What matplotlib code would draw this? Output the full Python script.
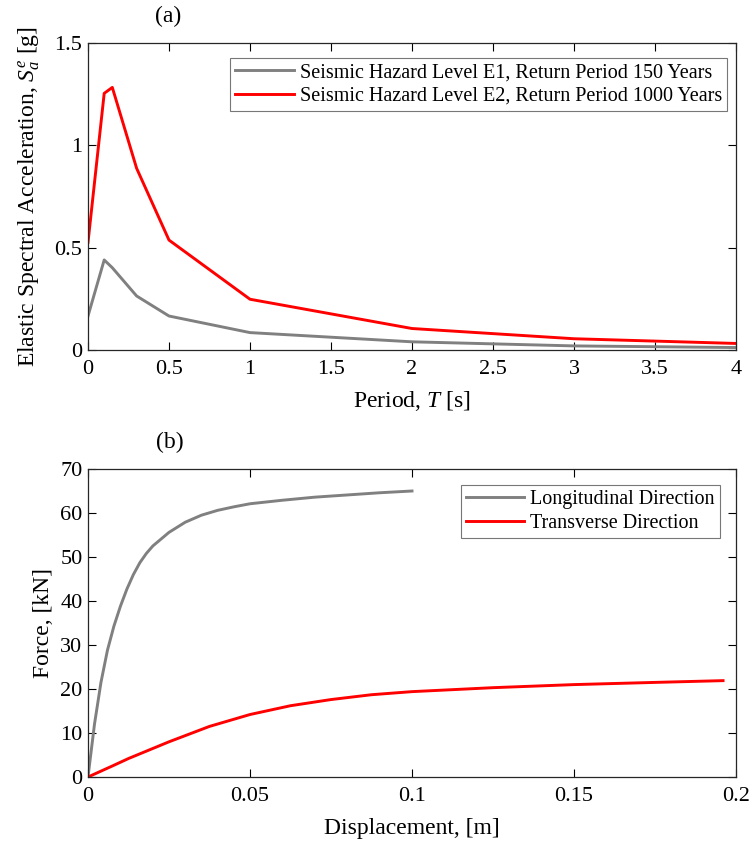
import matplotlib
matplotlib.use("Agg")
import matplotlib.pyplot as plt

plt.rcParams['font.family'] = ['Liberation Serif', 'DejaVu Serif']
plt.rcParams['mathtext.fontset'] = 'custom'
plt.rcParams['mathtext.rm'] = 'Liberation Serif'
plt.rcParams['mathtext.it'] = 'Liberation Serif:italic'

# (a) elastic response spectra
period = [0, 0.1, 0.15, 0.3, 0.5, 1, 2, 3, 4]
sa_e1 = [0.166, 0.44, 0.402, 0.264, 0.166, 0.085, 0.04, 0.02, 0.012]
sa_e2 = [0.526, 1.254, 1.283, 0.888, 0.537, 0.248, 0.105, 0.055, 0.032]

# (b) pushover curves
disp_long = [0, 0.002, 0.004, 0.006, 0.008, 0.010, 0.012, 0.014, 0.016, 0.018, 0.020,
             0.025, 0.030, 0.035, 0.040, 0.045, 0.050, 0.060, 0.070, 0.080, 0.090, 0.100]
force_long = [0, 12, 21.5, 28.8, 34.3, 38.8, 42.7, 46, 48.7, 50.8, 52.5,
              55.6, 57.9, 59.5, 60.6, 61.4, 62.1, 62.9, 63.6, 64.1, 64.6, 65]
disp_trans = [0, 0.0075, 0.0125, 0.025, 0.0375, 0.05, 0.0625, 0.075, 0.0875, 0.1,
              0.125, 0.15, 0.175, 0.196]
force_trans = [0, 2.5, 4.2, 8, 11.5, 14.2, 16.2, 17.6, 18.7, 19.4,
               20.3, 21, 21.5, 21.9]

gray = (0.5, 0.5, 0.5)
red = (1, 0, 0)
fs_tick = 16
fs_lab = 17
fs_leg = 14.5

fig = plt.figure(figsize=(7.5, 8.47), dpi=100)
W, H = 750, 847
ax1 = fig.add_axes([88 / W, 1 - 350 / H, 648 / W, 307 / H])
ax2 = fig.add_axes([88 / W, 1 - 777 / H, 648 / W, 308 / H])


def style(ax):
    ax.tick_params(direction='in', top=True, right=True, labelsize=fs_tick, length=6,
                   width=0.8)
    ax.tick_params(axis='x', pad=7)
    ax.tick_params(axis='y', pad=4)
    for s in ax.spines.values():
        s.set_linewidth(0.9)
        s.set_color('#262626')


def legend(ax, anchor):
    leg = ax.legend(loc='upper right', bbox_to_anchor=anchor, fontsize=fs_leg,
                    frameon=True, fancybox=False, handlelength=2.9, borderpad=0.25,
                    labelspacing=0.22, borderaxespad=0, handletextpad=0.3)
    leg.get_frame().set_edgecolor('#555555')
    leg.get_frame().set_linewidth(0.8)


ax1.plot(period, sa_e1, color=gray, lw=2.1,
         label='Seismic Hazard Level E1, Return Period 150 Years')
ax1.plot(period, sa_e2, color=red, lw=2.1,
         label='Seismic Hazard Level E2, Return Period 1000 Years')
ax1.set_xlim(0, 4)
ax1.set_ylim(0, 1.5)
ax1.set_xticks([0, 0.5, 1, 1.5, 2, 2.5, 3, 3.5, 4])
ax1.set_xticklabels(['0', '0.5', '1', '1.5', '2', '2.5', '3', '3.5', '4'])
ax1.set_yticks([0, 0.5, 1, 1.5])
ax1.set_yticklabels(['0', '0.5', '1', '1.5'])
ax1.set_xlabel('Period, $T$ [s]', fontsize=fs_lab)
ax1.set_ylabel('Elastic Spectral Acceleration, $S_a^e$ [g]', fontsize=fs_lab)
ax1.xaxis.set_label_coords(0.5, -39 / 307)
ax1.yaxis.set_label_coords(-46 / 648, 0.5)
ax1.text(80 / 648, 1 + 27 / 307, '(a)', transform=ax1.transAxes,
         ha='center', va='center', fontsize=fs_lab)
style(ax1)
legend(ax1, (0.986, 0.951))

ax2.plot(disp_long, force_long, color=gray, lw=2.1, label='Longitudinal Direction')
ax2.plot(disp_trans, force_trans, color=red, lw=2.1, label='Transverse Direction')
ax2.set_xlim(0, 0.2)
ax2.set_ylim(0, 70)
ax2.set_xticks([0, 0.05, 0.1, 0.15, 0.2])
ax2.set_xticklabels(['0', '0.05', '0.1', '0.15', '0.2'])
ax2.set_yticks(range(0, 71, 10))
ax2.set_xlabel('Displacement, [m]', fontsize=fs_lab)
ax2.set_ylabel('Force, [kN]', fontsize=fs_lab)
ax2.xaxis.set_label_coords(0.5, -41 / 308)
ax2.yaxis.set_label_coords(-34 / 648, 0.5)
ax2.text(82 / 648, 1 + 27 / 308, '(b)', transform=ax2.transAxes,
         ha='center', va='center', fontsize=fs_lab)
style(ax2)
legend(ax2, (0.975, 0.948))

fig.savefig('out.png', dpi=100)
